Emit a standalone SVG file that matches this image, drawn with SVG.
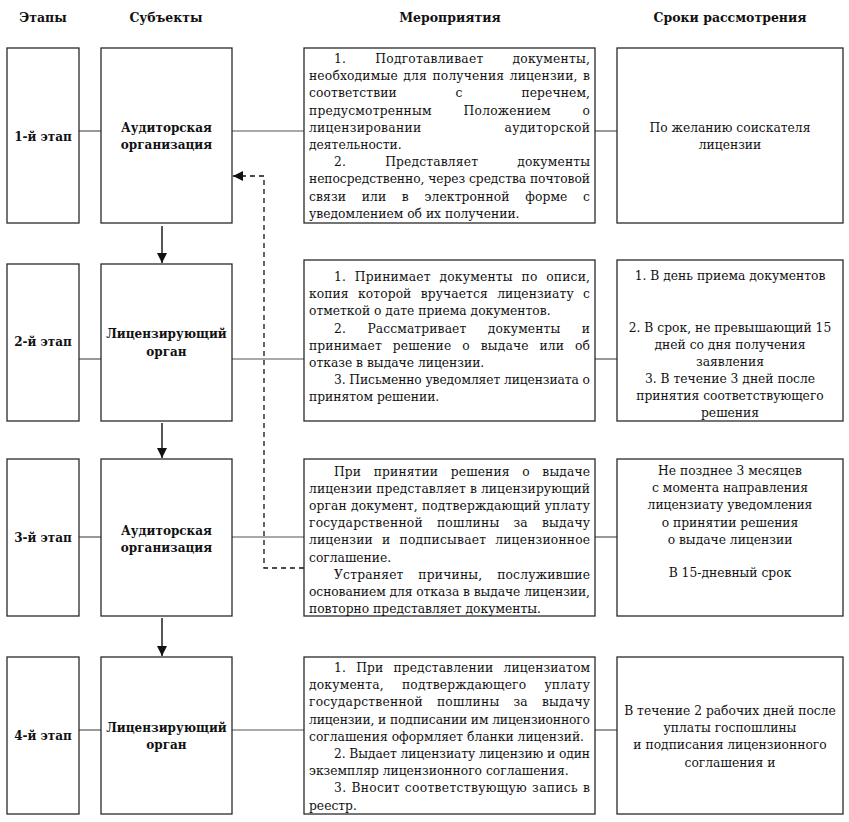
<svg xmlns="http://www.w3.org/2000/svg" width="849" height="822" viewBox="0 0 849 822">
<style>
.box{fill:#fff;stroke:#2a2a2a;stroke-width:1.3}
.t{font-family:"DejaVu Serif","Liberation Serif","Times New Roman",serif;font-size:12.3px;fill:#111}
.b{font-weight:bold;font-size:12px}
.h{font-weight:bold;font-size:12.5px}
.c{text-anchor:middle}
.ln{stroke:#555;stroke-width:1.2;fill:none}
.ar{stroke:#111;stroke-width:1.4;fill:none}
.dash{stroke:#111;stroke-width:1.3;fill:none;stroke-dasharray:5 4}
</style>
<defs>
<marker id="ah" viewBox="0 0 10 10" refX="10" refY="5" markerWidth="10" markerHeight="10" markerUnits="userSpaceOnUse" orient="auto">
<path d="M0,0 L10,5 L0,10 Z" fill="#111"/>
</marker>
</defs>
<rect width="849" height="822" fill="#fff"/>
<g id="headers" class="t h c">
<text x="43" y="22">Этапы</text>
<text x="166" y="22">Субъекты</text>
<text x="450" y="22">Мероприятия</text>
<text x="730" y="22">Сроки рассмотрения</text>
</g>
<g id="connectors">
<line class="ln" x1="79" y1="131" x2="101" y2="131"/>
<line class="ln" x1="232" y1="131" x2="304" y2="131"/>
<line class="ln" x1="595" y1="131" x2="617" y2="131"/>
<line class="ln" x1="79" y1="359" x2="101" y2="359"/>
<line class="ln" x1="232" y1="359" x2="304" y2="359"/>
<line class="ln" x1="595" y1="359" x2="617" y2="359"/>
<line class="ln" x1="79" y1="537" x2="101" y2="537"/>
<line class="ln" x1="232" y1="537" x2="304" y2="537"/>
<line class="ln" x1="595" y1="537" x2="617" y2="537"/>
<line class="ln" x1="79" y1="730" x2="101" y2="730"/>
<line class="ln" x1="232" y1="730" x2="304" y2="730"/>
<line class="ln" x1="595" y1="730" x2="617" y2="730"/>
<line class="ar" x1="162" y1="226" x2="162" y2="263" marker-end="url(#ah)"/>
<line class="ar" x1="162" y1="423" x2="162" y2="458" marker-end="url(#ah)"/>
<line class="ar" x1="162" y1="618" x2="162" y2="656" marker-end="url(#ah)"/>
<path class="dash" d="M304,568 H264 V176 H233" marker-end="url(#ah)"/>
</g>
<g id="stage1"><rect class="box" x="7" y="48" width="72" height="175"/><text class="t b c" x="43" y="141">1-й этап</text></g>
<g id="subject1"><rect class="box" x="101" y="48" width="131" height="175"/><text class="t b c" x="166.5" y="132">Аудиторская</text><text class="t b c" x="166.5" y="149">организация</text></g>
<g id="measures1"><rect class="box" x="304" y="48" width="291" height="175"/>
<g class="t">
<text x="334" y="63" style="word-spacing:25px" textLength="256" lengthAdjust="spacing">1. Подготавливает документы,</text>
<text x="309" y="80.2" style="word-spacing:1.4px" textLength="281" lengthAdjust="spacing">необходимые для получения лицензии, в</text>
<text x="309" y="97.4" style="word-spacing:54.8px" textLength="281" lengthAdjust="spacing">соответствии с перечнем,</text>
<text x="309" y="114.6" style="word-spacing:27.7px" textLength="281" lengthAdjust="spacing">предусмотренным Положением о</text>
<text x="309" y="131.8" style="word-spacing:79px" textLength="281" lengthAdjust="spacing">лицензировании аудиторской</text>
<text x="309" y="149">деятельности.</text>
<text x="334" y="166.2" style="word-spacing:35px" textLength="256" lengthAdjust="spacing">2. Представляет документы</text>
<text x="309" y="183.4" textLength="281" lengthAdjust="spacing">непосредственно, через средства почтовой</text>
<text x="309" y="200.6" style="word-spacing:11.6px" textLength="281" lengthAdjust="spacing">связи или в электронной форме с</text>
<text x="309" y="217.8">уведомлением об их получении.</text>
</g></g>
<g id="terms1"><rect class="box" x="617" y="48" width="226" height="175"/><text class="t c" x="730" y="132">По желанию соискателя</text><text class="t c" x="730" y="149">лицензии</text></g>

<g id="stage2"><rect class="box" x="7" y="264" width="72" height="157"/><text class="t b c" x="43" y="346">2-й этап</text></g>
<g id="subject2"><rect class="box" x="101" y="264" width="131" height="157"/><text class="t b c" x="166.5" y="338">Лицензирующий</text><text class="t b c" x="166.5" y="356">орган</text></g>
<g id="measures2"><rect class="box" x="304" y="260" width="291" height="161"/>
<g class="t">
<text x="334" y="281" style="word-spacing:4.6px" textLength="256" lengthAdjust="spacing">1. Принимает документы по описи,</text>
<text x="309" y="298.2" style="word-spacing:5.4px" textLength="281" lengthAdjust="spacing">копия которой вручается лицензиату с</text>
<text x="309" y="315.4">отметкой о дате приема документов.</text>
<text x="334" y="332.6" style="word-spacing:17.4px" textLength="256" lengthAdjust="spacing">2. Рассматривает документы и</text>
<text x="309" y="349.8" style="word-spacing:6.9px" textLength="281" lengthAdjust="spacing">принимает решение о выдаче или об</text>
<text x="309" y="367">отказе в выдаче лицензии.</text>
<text x="334" y="384.2" textLength="256" lengthAdjust="spacing">3. Письменно уведомляет лицензиата о</text>
<text x="309" y="401.4">принятом решении.</text>
</g></g>
<g id="terms2"><rect class="box" x="617" y="260" width="226" height="161"/>
<g class="t c">
<text x="730" y="280">1. В день приема документов</text>
<text x="730" y="332">2. В срок, не превышающий 15</text>
<text x="730" y="349">дней со дня получения</text>
<text x="730" y="366">заявления</text>
<text x="730" y="383">3. В течение 3 дней после</text>
<text x="730" y="400">принятия соответствующего</text>
<text x="730" y="417">решения</text>
</g></g>

<g id="stage3"><rect class="box" x="7" y="459" width="72" height="157"/><text class="t b c" x="43" y="542">3-й этап</text></g>
<g id="subject3"><rect class="box" x="101" y="459" width="131" height="157"/><text class="t b c" x="166.5" y="535">Аудиторская</text><text class="t b c" x="166.5" y="552">организация</text></g>
<g id="measures3"><rect class="box" x="304" y="459" width="291" height="157"/>
<g class="t">
<text x="334" y="476" style="word-spacing:8.6px" textLength="256" lengthAdjust="spacing">При принятии решения о выдаче</text>
<text x="309" y="493.1" textLength="281" lengthAdjust="spacing">лицензии представляет в лицензирующий</text>
<text x="309" y="510.2" textLength="281" lengthAdjust="spacing">орган документ, подтверждающий уплату</text>
<text x="309" y="527.3" style="word-spacing:9.9px" textLength="281" lengthAdjust="spacing">государственной пошлины за выдачу</text>
<text x="309" y="544.4" style="word-spacing:5px" textLength="281" lengthAdjust="spacing">лицензии и подписывает лицензионное</text>
<text x="309" y="561.5">соглашение.</text>
<text x="334" y="578.6" style="word-spacing:10.6px" textLength="256" lengthAdjust="spacing">Устраняет причины, послужившие</text>
<text x="309" y="595.7" textLength="281" lengthAdjust="spacing">основанием для отказа в выдаче лицензии,</text>
<text x="309" y="612.8">повторно представляет документы.</text>
</g></g>
<g id="terms3"><rect class="box" x="617" y="459" width="226" height="157"/>
<g class="t c">
<text x="730" y="475">Не позднее 3 месяцев</text>
<text x="730" y="492">с момента направления</text>
<text x="730" y="509">лицензиату уведомления</text>
<text x="730" y="527">о принятии решения</text>
<text x="730" y="544">о выдаче лицензии</text>
<text x="730" y="577">В 15-дневный срок</text>
</g></g>

<g id="stage4"><rect class="box" x="7" y="657" width="72" height="157"/><text class="t b c" x="43" y="740">4-й этап</text></g>
<g id="subject4"><rect class="box" x="101" y="657" width="131" height="157"/><text class="t b c" x="166.5" y="732">Лицензирующий</text><text class="t b c" x="166.5" y="749">орган</text></g>
<g id="measures4"><rect class="box" x="304" y="657" width="291" height="157"/>
<g class="t">
<text x="334" y="672" style="word-spacing:6.2px" textLength="256" lengthAdjust="spacing">1. При представлении лицензиатом</text>
<text x="309" y="689.2" style="word-spacing:14px" textLength="281" lengthAdjust="spacing">документа, подтверждающего уплату</text>
<text x="309" y="706.4" style="word-spacing:9.9px" textLength="281" lengthAdjust="spacing">государственной пошлины за выдачу</text>
<text x="309" y="723.6" textLength="281" lengthAdjust="spacing">лицензии, и подписании им лицензионного</text>
<text x="309" y="740.8">соглашения оформляет бланки лицензий.</text>
<text x="334" y="758" textLength="256" lengthAdjust="spacing">2. Выдает лицензиату лицензию и один</text>
<text x="309" y="775.2">экземпляр лицензионного соглашения.</text>
<text x="334" y="792.4" style="word-spacing:0.8px" textLength="256" lengthAdjust="spacing">3. Вносит соответствующую запись в</text>
<text x="309" y="809.6">реестр.</text>
</g></g>
<g id="terms4"><rect class="box" x="617" y="657" width="226" height="157"/>
<g class="t c">
<text x="730" y="715">В течение 2 рабочих дней после</text>
<text x="730" y="732">уплаты госпошлины</text>
<text x="730" y="749">и подписания лицензионного</text>
<text x="730" y="767">соглашения и</text>
</g></g>
</svg>
